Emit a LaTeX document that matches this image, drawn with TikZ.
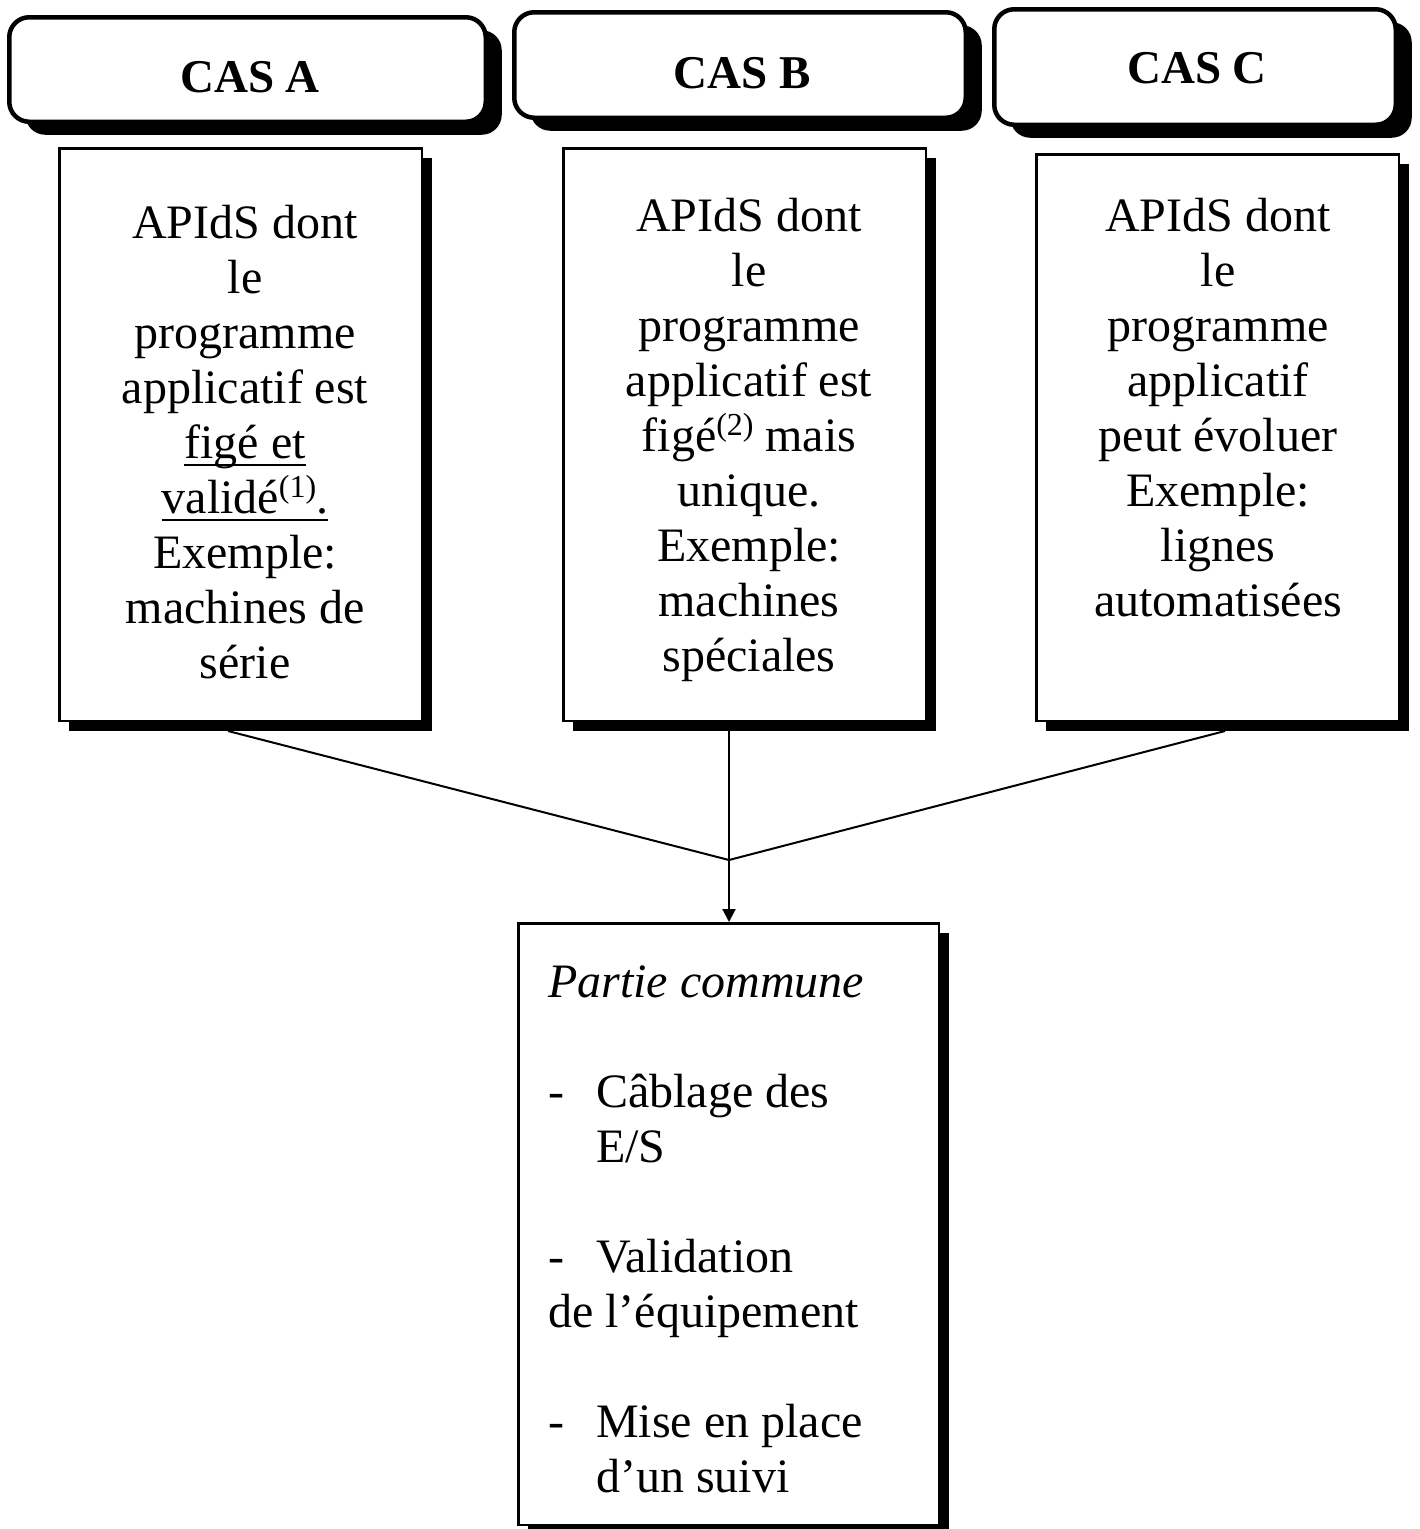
\documentclass[tikz,border=0pt]{standalone}
\usepackage{fontspec}
\setmainfont{Liberation Serif}
\usetikzlibrary{shadows,arrows.meta}
\newcommand\myul[1]{\setbox0\hbox{#1}\rlap{\rule[-8pt]{\wd0}{2.4pt}}\box0}
\newcommand\mysup[1]{\raisebox{16pt}{\fontsize{32}{32}\selectfont #1}}
\tikzset{
  hdrbox/.style={draw=black, line width=4.5pt, fill=white, rounded corners=20pt, inner sep=0pt,
    general shadow={fill=black, shadow xshift=16pt, shadow yshift=-13pt}},
  bodybox/.style={draw=black, line width=2.5pt, fill=white, inner sep=0pt,
    general shadow={fill=black, shadow xshift=10pt, shadow yshift=-10pt}},
  txt/.style={font=\fontsize{48}{55}\selectfont, inner sep=0pt, align=center, anchor=north},
  ltxt/.style={font=\fontsize{48}{55}\selectfont, inner sep=0pt, align=left, anchor=north west},
  hdrtext/.style={font=\fontsize{47}{54}\selectfont\bfseries, inner sep=0pt, anchor=base},
  conn/.style={draw=black, line width=2pt}
}
\begin{document}
\begin{tikzpicture}[x=1pt,y=-1pt]
\useasboundingbox (0,0) rectangle (1420,1529);
% header boxes
\node[hdrbox, minimum width=476.5pt, minimum height=104.5pt] (hA) at (247.5,69.5) {};
\node[hdrbox, minimum width=451.5pt, minimum height=105.5pt] (hB) at (740,65) {};
\node[hdrbox, minimum width=401.5pt, minimum height=115.5pt] (hC) at (1195,67) {};
\node[hdrtext] (tHA) at (250,92) {CAS A};
\node[hdrtext] (tHB) at (742,88) {CAS B};
\node[hdrtext] (tHC) at (1197,83) {CAS C};
% body boxes
\node[bodybox, minimum width=362.5pt, minimum height=572.5pt] (A) at (240.5,434.5) {};
\node[bodybox, minimum width=362.5pt, minimum height=572.5pt] (B) at (744.5,434.5) {};
\node[bodybox, minimum width=362.5pt, minimum height=566.5pt] (C) at (1217.5,437.5) {};
\node[bodybox, minimum width=420.5pt, minimum height=601.5pt] (D) at (728.5,1224) {};
% texts
\node[txt] (tA) at (245,199.5) {\strut APIdS dont\\le\\programme\\applicatif est\\\myul{figé et}\\\myul{validé\mysup{(1)}.}\\Exemple:\\machines de\\série};
\node[txt] (tB) at (749,192.5) {\strut APIdS dont\\le\\programme\\applicatif est\\figé\mysup{(2)} mais\\unique.\\Exemple:\\machines\\spéciales};
\node[txt] (tC) at (1218,192.5) {\strut APIdS dont\\le\\programme\\applicatif\\peut évoluer\\Exemple:\\lignes\\automatisées};
\node[ltxt] (tD) at (548,958.5) {\strut\textit{Partie commune}\\\strut\\\makebox[48pt][l]{-}Câblage des\\\hspace*{48pt}E/S\\\strut\\\makebox[48pt][l]{-}Validation\\de l’équipement\\\strut\\\makebox[48pt][l]{-}Mise en place\\\hspace*{48pt}d’un suivi};
% connectors
\coordinate (J) at (729,860);
\coordinate (pA) at (228,731);
\coordinate (pB) at (729,731);
\coordinate (pC) at (1225,731);
\draw[conn] (pA) -- (J);
\draw[conn] (pB) -- (J);
\draw[conn] (pC) -- (J);
\draw[conn, -{Triangle[length=13pt,width=13pt]}] (J) -- (J |- D.north);
\end{tikzpicture}
\end{document}
